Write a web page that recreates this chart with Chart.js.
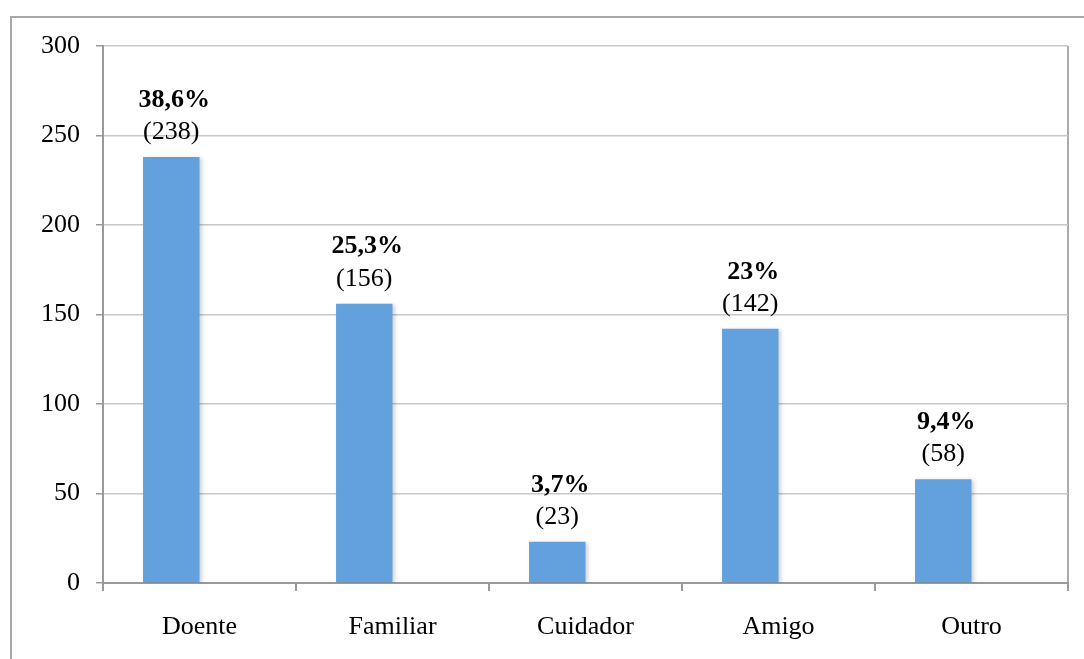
<!DOCTYPE html>
<html>
<head>
  <title>Quem respondeu</title>
  <script src="https://cdn.jsdelivr.net/npm/chart.js"></script>
  <style>
    body {
      margin: 0;
      background-color: #fff;
      overflow: hidden;
    }
    .frame {
      position: absolute;
      left: 10px;
      top: 16px;
      width: 2000px;
      height: 2000px;
      border-left: 2px solid #a8a8a8;
      border-top: 2px solid #a8a8a8;
    }
    #chart {
      position: absolute;
      left: 0;
      top: 0;
    }
  </style>
</head>
<body>
  <div class="frame"></div>
  <canvas id="chart" width="1084" height="659"></canvas>
  <script>
    var categories = ['Doente', 'Familiar', 'Cuidador', 'Amigo', 'Outro'];
    var counts = [238, 156, 23, 142, 58];
    var percents = ['38,6%', '25,3%', '3,7%', '23%', '9,4%'];
    var yTicks = [0, 50, 100, 150, 200, 250, 300];

    var serif = '"Liberation Serif", "Times New Roman", serif';

    // rótulos por cima das barras: percentagem a negrito e contagem entre parênteses
    var barLabels = {
      id: 'barLabels',
      afterDatasetsDraw: function(chart) {
        var ctx = chart.ctx;
        var bars = chart.getDatasetMeta(0).data;
        ctx.save();
        ctx.fillStyle = '#000';
        ctx.textAlign = 'center';
        ctx.textBaseline = 'middle';
        bars.forEach(function(bar, i) {
          ctx.font = 'bold 26px ' + serif;
          ctx.fillText(percents[i], bar.x + 3, bar.y - 57);
          ctx.font = '26px ' + serif;
          ctx.fillText('(' + counts[i] + ')', bar.x, bar.y - 25);
        });
        ctx.restore();
      }
    };

    // sombra leve nas barras
    var barShadow = {
      id: 'barShadow',
      beforeDatasetsDraw: function(chart) {
        var ctx = chart.ctx;
        ctx.save();
        ctx.shadowColor = 'rgba(0, 0, 0, 0.18)';
        ctx.shadowBlur = 4;
        ctx.shadowOffsetX = 2;
        ctx.shadowOffsetY = 1;
      },
      afterDatasetsDraw: function(chart) {
        chart.ctx.restore();
      }
    };

    new Chart(document.getElementById('chart').getContext('2d'), {
      type: 'bar',
      data: {
        labels: categories,
        datasets: [{
          data: counts,
          backgroundColor: '#62a0de',
          borderWidth: 0
        }, {
          // série vazia que ocupa o lugar ao lado de cada barra
          data: counts.map(function() { return null; }),
          backgroundColor: 'transparent'
        }]
      },
      options: {
        responsive: false,
        devicePixelRatio: 1,
        animation: false,
        categoryPercentage: 0.585,
        barPercentage: 1,
        layout: {
          padding: { left: 0, top: 46, right: 16, bottom: 0 }
        },
        plugins: {
          legend: { display: false },
          tooltip: { enabled: false }
        },
        scales: {
          x: {
            offset: true,
            grid: {
              offset: true,
              drawOnChartArea: true,
              color: function(c) { return c.type === 'scale' ? '#aaaaaa' : 'transparent'; },
              tickColor: '#999',
              tickLength: 8,
              lineWidth: 2
            },
            border: { color: '#999', width: 2 },
            ticks: {
              color: '#000',
              font: { family: serif, size: 26 },
              padding: 21
            },
            afterFit: function(s) { s.height = 76; }
          },
          y: {
            min: 0,
            max: 300,
            afterBuildTicks: function(s) {
              s.ticks = yTicks.map(function(v) { return { value: v }; });
            },
            grid: {
              color: '#c8c8c8',
              tickColor: '#999',
              tickLength: 7,
              lineWidth: 1.5
            },
            border: { color: '#999', width: 2 },
            ticks: {
              color: '#000',
              font: { family: serif, size: 26 },
              padding: 16
            },
            afterFit: function(s) { s.width = 103; }
          }
        }
      },
      plugins: [barShadow, barLabels]
    });
  </script>
</body>
</html>
